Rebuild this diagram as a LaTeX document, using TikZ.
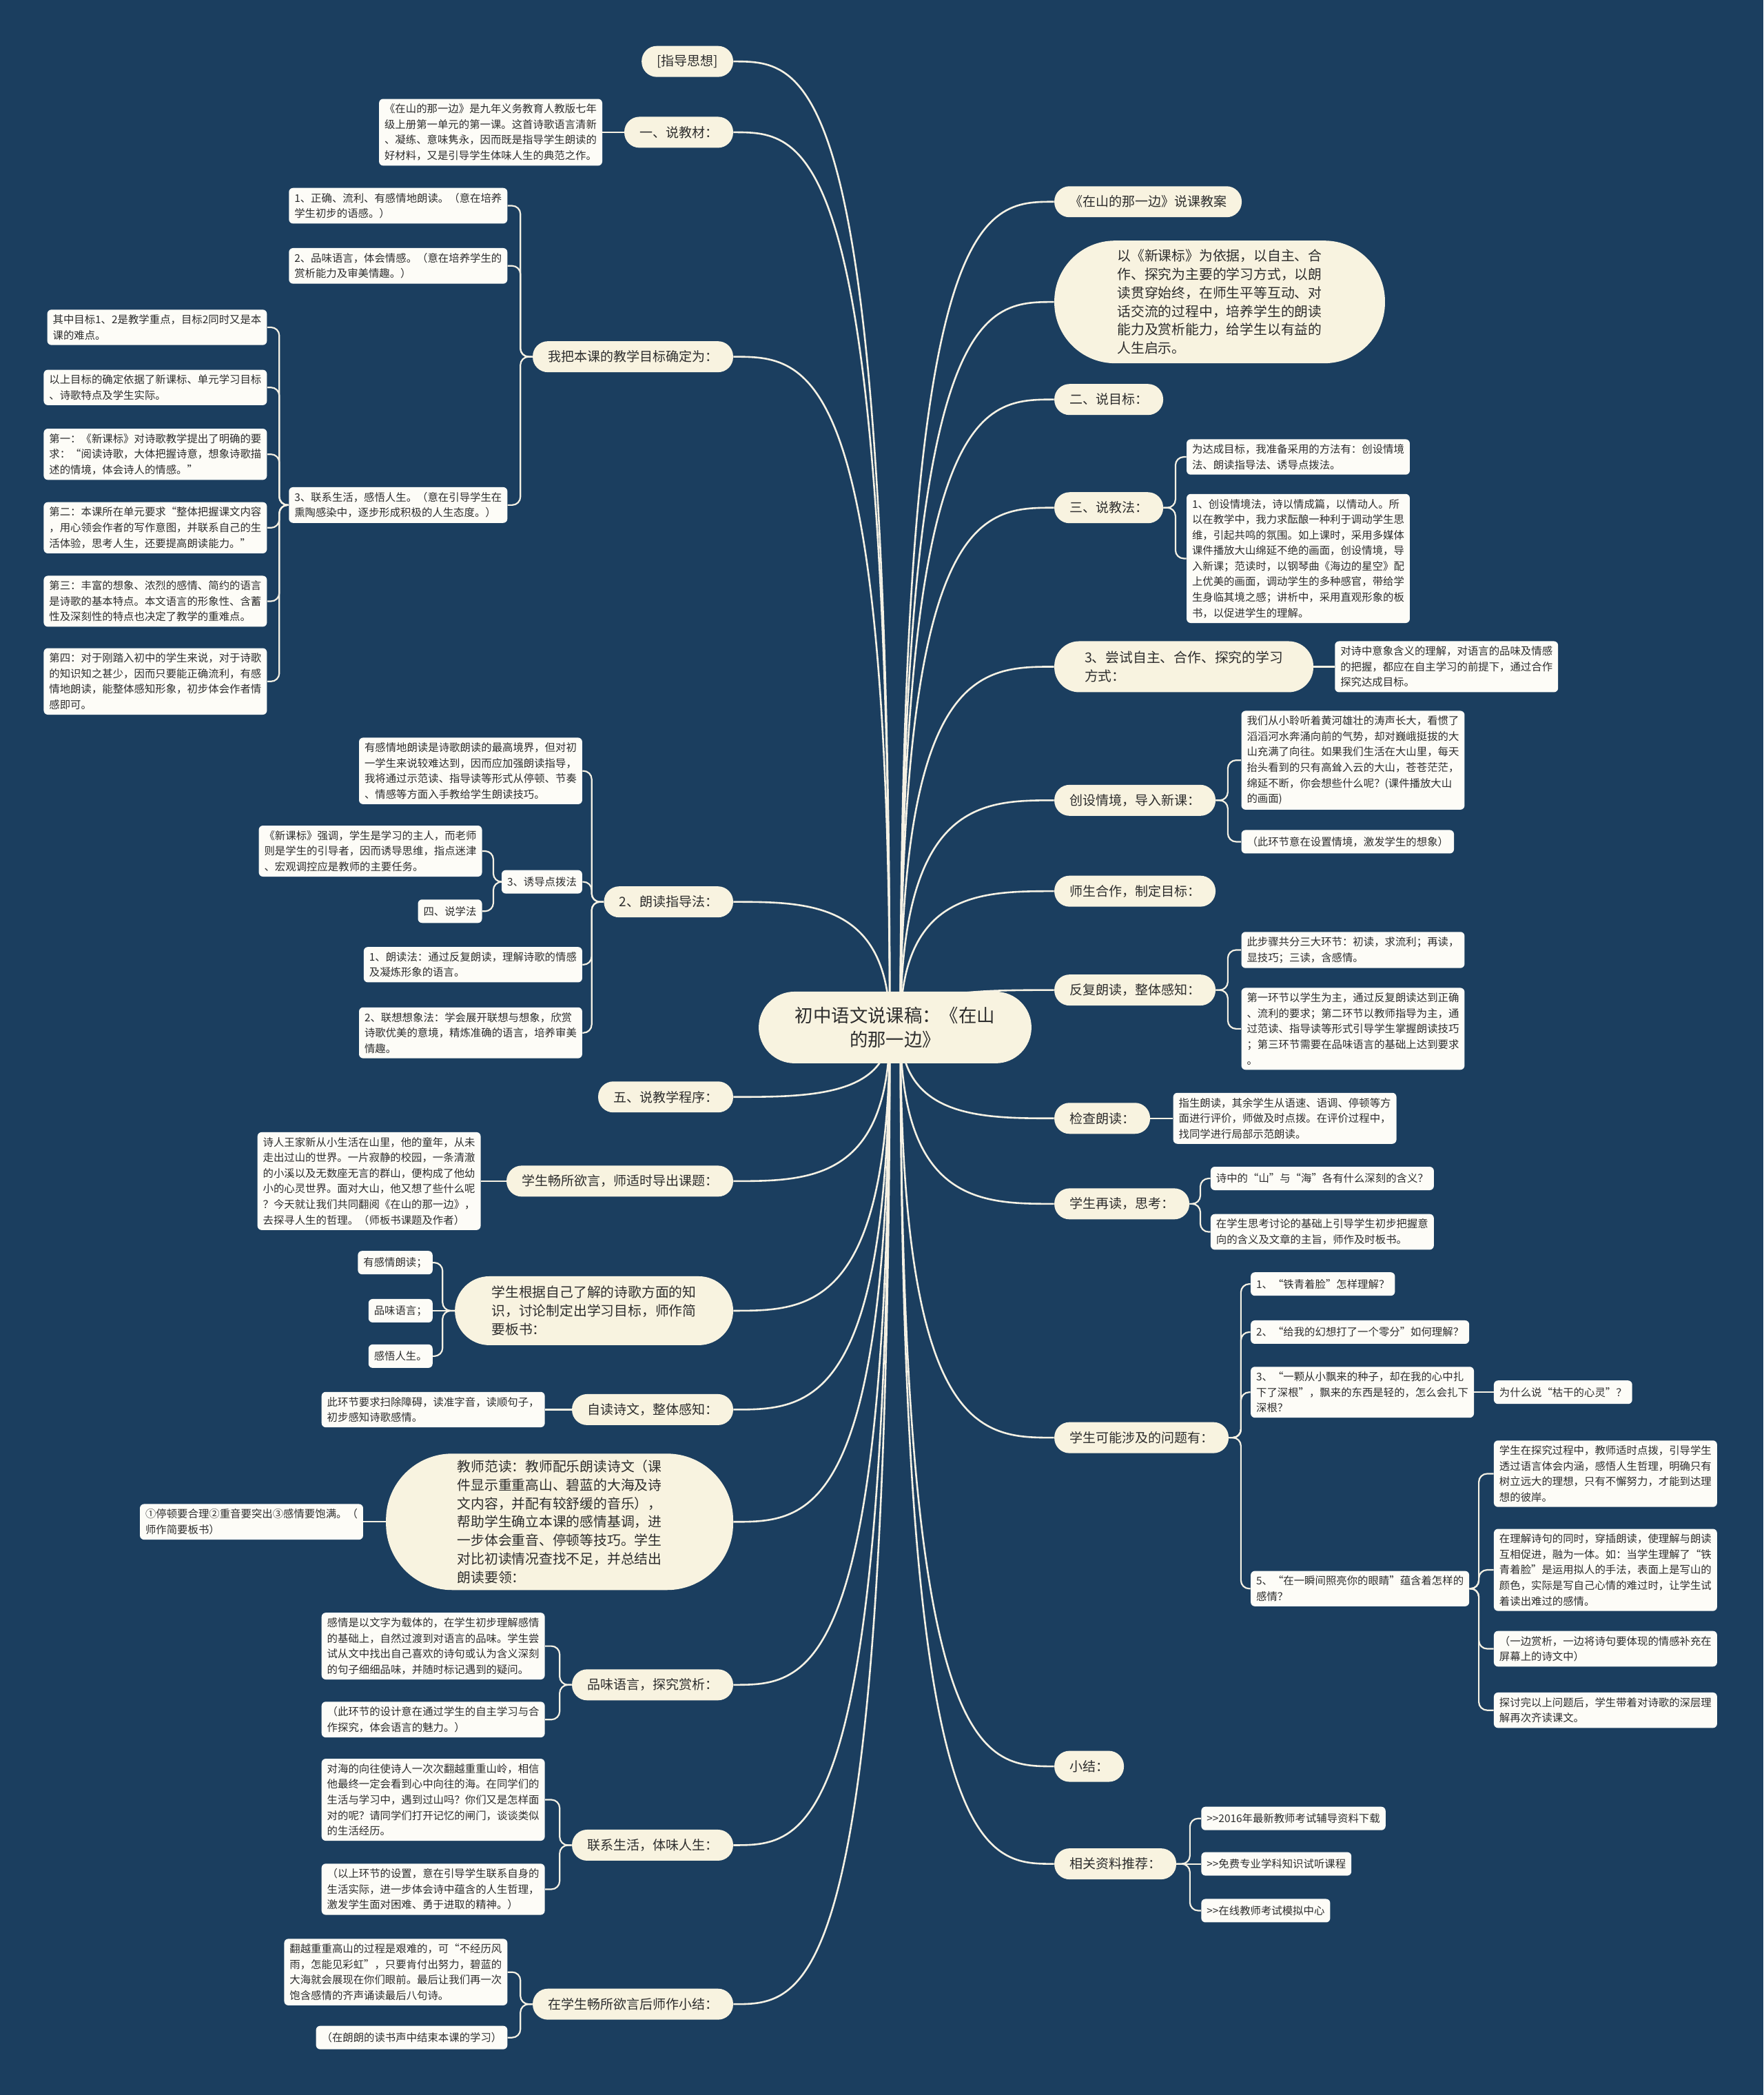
\documentclass[tikz,border=0pt]{standalone}
\usepackage{fontspec}
\setmainfont{Noto Sans CJK SC}
\usetikzlibrary{calc}
\definecolor{bgc}{RGB}{27,62,95}
\definecolor{pillc}{RGB}{248,243,224}
\definecolor{leafc}{RGB}{253,252,247}
\definecolor{linec}{RGB}{245,241,228}
\definecolor{txt}{RGB}{45,45,45}
\pgfdeclarelayer{bg}\pgfdeclarelayer{edges}\pgfsetlayers{bg,edges,main}
\tikzset{
 leaf/.style={fill=leafc, rounded corners=3pt, inner xsep=4pt, inner ysep=3.6pt, minimum height=17pt, align=left, font=\fontsize{7.7}{11.3}\selectfont, text=txt},
 pill/.style={fill=pillc, rounded corners=11pt, inner xsep=11pt, inner ysep=3pt, minimum height=22.5pt, align=left, font=\fontsize{9.5}{13.2}\selectfont, text=txt},
 bigpill/.style={pill, font=\fontsize{9.9}{13.4}\selectfont},
 rootnode/.style={fill=pillc, rounded corners=26pt, minimum width=198pt, minimum height=52pt, align=center, font=\fontsize{13.2}{17.5}\selectfont, text=txt},
 trunk/.style={draw=linec, line width=1.3pt},
 twig/.style={draw=linec, line width=1.1pt, rounded corners=6pt},
}
\newcommand\tkL[2]{\draw[trunk] (666,769) .. controls (666,#2) and (605,#2) .. (#1.east);}
\newcommand\tkR[2]{\draw[trunk] (674,769) .. controls (674,#2) and (735,#2) .. (#1.west);}
\newcommand\twL[3][9]{\draw[twig] (#2.west) -- ++(-#1,0) |- (#3.east);}
\newcommand\twR[3][9]{\draw[twig] (#2.east) -- ++(#1,0) |- (#3.west);}
\newcommand\stL[2]{\draw[twig] (#1.west) -- (#2.east);}
\newcommand\stR[2]{\draw[twig] (#1.east) -- (#2.west);}
\newcommand\gtgt{{>}{>}}
\begin{document}
\begin{tikzpicture}[x=0.9697pt,y=-0.9697pt]
\begin{pgfonlayer}{bg}
\fill[bgc] (0,0) rectangle (1320,1568);
\end{pgfonlayer}
\useasboundingbox (0,0) rectangle (1320,1568);

% root
\node[rootnode] (root) at (670,769) {初中语文说课稿：《在山\\的那一边》};

% ---------- left side ----------
\node[pill, anchor=east] (l1) at (549,46) {[指导思想]};
\node[pill, anchor=east] (l2) at (549,99) {一、说教材：};
\node[leaf, anchor=east] (l2a) at (451,99) {《在山的那一边》是九年义务教育人教版七年\\级上册第一单元的第一课。这首诗歌语言清新\\、凝练、意味隽永，因而既是指导学生朗读的\\好材料，又是引导学生体味人生的典范之作。};

\node[pill, anchor=east] (l3) at (549,267) {我把本课的教学目标确定为：};
\node[leaf, anchor=east] (l3a) at (380,154) {1、正确、流利、有感情地朗读。（意在培养\\学生初步的语感。）};
\node[leaf, anchor=east] (l3b) at (380,199) {2、品味语言，体会情感。（意在培养学生的\\赏析能力及审美情趣。）};
\node[leaf, anchor=east] (l3c) at (380,378) {3、联系生活，感悟人生。（意在引导学生在\\熏陶感染中，逐步形成积极的人生态度。）};
\node[leaf, anchor=east] (c1) at (200,245) {其中目标1、2是教学重点，目标2同时又是本\\课的难点。};
\node[leaf, anchor=east] (c2) at (200,290) {以上目标的确定依据了新课标、单元学习目标\\、诗歌特点及学生实际。};
\node[leaf, anchor=east] (c3) at (200,340) {第一：《新课标》对诗歌教学提出了明确的要\\求：“阅读诗歌，大体把握诗意，想象诗歌描\\述的情境，体会诗人的情感。”};
\node[leaf, anchor=east] (c4) at (200,395) {第二：本课所在单元要求“整体把握课文内容\\，用心领会作者的写作意图，并联系自己的生\\活体验，思考人生，还要提高朗读能力。”};
\node[leaf, anchor=east] (c5) at (200,450) {第三：丰富的想象、浓烈的感情、简约的语言\\是诗歌的基本特点。本文语言的形象性、含蓄\\性及深刻性的特点也决定了教学的重难点。};
\node[leaf, anchor=east] (c6) at (200,510) {第四：对于刚踏入初中的学生来说，对于诗歌\\的知识知之甚少，因而只要能正确流利，有感\\情地朗读，能整体感知形象，初步体会作者情\\感即可。};

\node[pill, anchor=east] (l4) at (549,675) {2、朗读指导法：};
\node[leaf, anchor=east] (d1) at (436,577) {有感情地朗读是诗歌朗读的最高境界，但对初\\一学生来说较难达到，因而应加强朗读指导，\\我将通过示范读、指导读等形式从停顿、节奏\\、情感等方面入手教给学生朗读技巧。};
\node[leaf, anchor=east] (d2) at (436,660) {3、诱导点拨法};
\node[leaf, anchor=east] (d2a) at (361,637) {《新课标》强调，学生是学习的主人，而老师\\则是学生的引导者，因而诱导思维，指点迷津\\、宏观调控应是教师的主要任务。};
\node[leaf, anchor=east] (d2b) at (361,682) {四、说学法};
\node[leaf, anchor=east] (d3) at (436,722) {1、朗读法：通过反复朗读，理解诗歌的情感\\及凝炼形象的语言。};
\node[leaf, anchor=east] (d4) at (436,773) {2、联想想象法：学会展开联想与想象，欣赏\\诗歌优美的意境，精炼准确的语言，培养审美\\情趣。};

\node[pill, anchor=east] (l5) at (549,821) {五、说教学程序：};
\node[pill, anchor=east] (l6) at (549,884) {学生畅所欲言，师适时导出课题：};
\node[leaf, anchor=east] (l6a) at (360,884) {诗人王家新从小生活在山里，他的童年，从未\\走出过山的世界。一片寂静的校园，一条清澈\\的小溪以及无数座无言的群山，便构成了他幼\\小的心灵世界。面对大山，他又想了些什么呢\\？今天就让我们共同翻阅《在山的那一边》，\\去探寻人生的哲理。（师板书课题及作者）};

\node[bigpill, anchor=east, minimum width=202pt, minimum height=50pt, rounded corners=25pt] (l7) at (549,981) {学生根据自己了解的诗歌方面的知\\识，讨论制定出学习目标，师作简\\要板书：};
\node[leaf, anchor=east] (l7a) at (324,945) {有感情朗读；};
\node[leaf, anchor=east] (l7b) at (324,981) {品味语言；};
\node[leaf, anchor=east] (l7c) at (324,1015) {感悟人生。};

\node[pill, anchor=east] (l8) at (549,1055) {自读诗文，整体感知：};
\node[leaf, anchor=east] (l8a) at (408,1055) {此环节要求扫除障碍，读准字音，读顺句子，\\初步感知诗歌感情。};

\node[bigpill, anchor=east, minimum width=252pt, minimum height=99pt, rounded corners=48pt] (l9) at (549,1139) {教师范读：教师配乐朗读诗文（课\\件显示重重高山、碧蓝的大海及诗\\文内容，并配有较舒缓的音乐），\\帮助学生确立本课的感情基调，进\\一步体会重音、停顿等技巧。学生\\对比初读情况查找不足，并总结出\\朗读要领：};
\node[leaf, anchor=east] (l9a) at (272,1139) {①停顿要合理②重音要突出③感情要饱满。（\\师作简要板书）};

\node[pill, anchor=east] (l10) at (549,1261) {品味语言，探究赏析：};
\node[leaf, anchor=east] (e1) at (408,1232) {感情是以文字为载体的，在学生初步理解感情\\的基础上，自然过渡到对语言的品味。学生尝\\试从文中找出自己喜欢的诗句或认为含义深刻\\的句子细细品味，并随时标记遇到的疑问。};
\node[leaf, anchor=east] (e2) at (408,1287) {（此环节的设计意在通过学生的自主学习与合\\作探究，体会语言的魅力。）};

\node[pill, anchor=east] (l11) at (549,1381) {联系生活，体味人生：};
\node[leaf, anchor=east] (f1) at (408,1347) {对海的向往使诗人一次次翻越重重山岭，相信\\他最终一定会看到心中向往的海。在同学们的\\生活与学习中，遇到过山吗？你们又是怎样面\\对的呢？请同学们打开记忆的闸门，谈谈类似\\的生活经历。};
\node[leaf, anchor=east] (f2) at (408,1414) {（以上环节的设置，意在引导学生联系自身的\\生活实际，进一步体会诗中蕴含的人生哲理，\\激发学生面对困难、勇于进取的精神。）};

\node[pill, anchor=east] (l12) at (549,1500) {在学生畅所欲言后师作小结：};
\node[leaf, anchor=east] (g1) at (380,1476) {翻越重重高山的过程是艰难的，可“不经历风\\雨，怎能见彩虹”，只要肯付出努力，碧蓝的\\大海就会展现在你们眼前。最后让我们再一次\\饱含感情的齐声诵读最后八句诗。};
\node[leaf, anchor=east] (g2) at (380,1525) {（在朗朗的读书声中结束本课的学习）};

% ---------- right side ----------
\node[pill, anchor=west] (r1) at (789,151) {《在山的那一边》说课教案};
\node[bigpill, anchor=west, minimum width=240pt, minimum height=89pt, rounded corners=44pt] (r2) at (789,226) {以《新课标》为依据，以自主、合\\作、探究为主要的学习方式，以朗\\读贯穿始终，在师生平等互动、对\\话交流的过程中，培养学生的朗读\\能力及赏析能力，给学生以有益的\\人生启示。};
\node[pill, anchor=west] (r3) at (789,299) {二、说目标：};
\node[pill, anchor=west] (r4) at (789,380) {三、说教法：};
\node[leaf, anchor=west] (h1) at (888,342) {为达成目标，我准备采用的方法有：创设情境\\法、朗读指导法、诱导点拨法。};
\node[leaf, anchor=west] (h2) at (888,418) {1、创设情境法，诗以情成篇，以情动人。所\\以在教学中，我力求酝酿一种利于调动学生思\\维，引起共鸣的氛围。如上课时，采用多媒体\\课件播放大山绵延不绝的画面，创设情境，导\\入新课；范读时，以钢琴曲《海边的星空》配\\上优美的画面，调动学生的多种感官，带给学\\生身临其境之感；讲析中，采用直观形象的板\\书，以促进学生的理解。};

\node[bigpill, anchor=west, minimum width=188pt, minimum height=37pt, rounded corners=18pt] (r5) at (789,499) {3、尝试自主、合作、探究的学习\\方式：};
\node[leaf, anchor=west] (r5a) at (999,499) {对诗中意象含义的理解，对语言的品味及情感\\的把握，都应在自主学习的前提下，通过合作\\探究达成目标。};

\node[pill, anchor=west] (r6) at (789,599) {创设情境，导入新课：};
\node[leaf, anchor=west] (i1) at (929,569) {我们从小聆听着黄河雄壮的涛声长大，看惯了\\滔滔河水奔涌向前的气势，却对巍峨挺拔的大\\山充满了向往。如果我们生活在大山里，每天\\抬头看到的只有高耸入云的大山，苍苍茫茫，\\绵延不断，你会想些什么呢？(课件播放大山\\的画面)};
\node[leaf, anchor=west] (i2) at (929,630) {（此环节意在设置情境，激发学生的想象）};

\node[pill, anchor=west] (r7) at (789,667) {师生合作，制定目标：};
\node[pill, anchor=west] (r8) at (789,741) {反复朗读，整体感知：};
\node[leaf, anchor=west] (j1) at (929,711) {此步骤共分三大环节：初读，求流利；再读，\\显技巧；三读，含感情。};
\node[leaf, anchor=west] (j2) at (929,770) {第一环节以学生为主，通过反复朗读达到正确\\、流利的要求；第二环节以教师指导为主，通\\过范读、指导读等形式引导学生掌握朗读技巧\\；第三环节需要在品味语言的基础上达到要求\\。};

\node[pill, anchor=west] (r9) at (789,837) {检查朗读：};
\node[leaf, anchor=west] (r9a) at (878,837) {指生朗读，其余学生从语速、语调、停顿等方\\面进行评价，师做及时点拨。在评价过程中，\\找同学进行局部示范朗读。};

\node[pill, anchor=west] (r10) at (789,901) {学生再读，思考：};
\node[leaf, anchor=west] (k1) at (906,882) {诗中的“山”与“海”各有什么深刻的含义？};
\node[leaf, anchor=west] (k2) at (906,922) {在学生思考讨论的基础上引导学生初步把握意\\向的含义及文章的主旨，师作及时板书。};

\node[pill, anchor=west] (r11) at (789,1076) {学生可能涉及的问题有：};
\node[leaf, anchor=west] (m1) at (936,961) {1、“铁青着脸”怎样理解？};
\node[leaf, anchor=west] (m2) at (936,997) {2、“给我的幻想打了一个零分”如何理解？};
\node[leaf, anchor=west] (m3) at (936,1042) {3、“一颗从小飘来的种子，却在我的心中扎\\下了深根”，飘来的东西是轻的，怎么会扎下\\深根？};
\node[leaf, anchor=west] (m3a) at (1118,1042) {为什么说“枯干的心灵”？};
\node[leaf, anchor=west] (m5) at (936,1189) {5、“在一瞬间照亮你的眼睛”蕴含着怎样的\\感情？};
\node[leaf, anchor=west] (n1) at (1118,1103) {学生在探究过程中，教师适时点拨，引导学生\\透过语言体会内涵，感悟人生哲理，明确只有\\树立远大的理想，只有不懈努力，才能到达理\\想的彼岸。};
\node[leaf, anchor=west] (n2) at (1118,1175) {在理解诗句的同时，穿插朗读，使理解与朗读\\互相促进，融为一体。如：当学生理解了“铁\\青着脸”是运用拟人的手法，表面上是写山的\\颜色，实际是写自己心情的难过时，让学生试\\着读出难过的感情。};
\node[leaf, anchor=west] (n3) at (1118,1234) {（一边赏析，一边将诗句要体现的情感补充在\\屏幕上的诗文中）};
\node[leaf, anchor=west] (n4) at (1118,1280) {探讨完以上问题后，学生带着对诗歌的深层理\\解再次齐读课文。};

\node[pill, anchor=west] (r12) at (789,1322) {小结：};
\node[pill, anchor=west] (r13) at (789,1395) {相关资料推荐：};
\node[leaf, anchor=west] (p1) at (899,1361) {\gtgt 2016年最新教师考试辅导资料下载};
\node[leaf, anchor=west] (p2) at (899,1395) {\gtgt 免费专业学科知识试听课程};
\node[leaf, anchor=west] (p3) at (899,1430) {\gtgt 在线教师考试模拟中心};

% ---------- connectors ----------
\begin{pgfonlayer}{edges}
\tkL{l1}{46} \tkL{l2}{99} \tkL{l3}{267} \tkL{l4}{675} \tkL{l5}{821}
\tkL{l6}{884} \tkL{l7}{981} \tkL{l8}{1055} \tkL{l9}{1139} \tkL{l10}{1261}
\tkL{l11}{1381} \tkL{l12}{1500}
\tkR{r1}{151} \tkR{r2}{226} \tkR{r3}{299} \tkR{r4}{380} \tkR{r5}{499}
\tkR{r6}{599} \tkR{r7}{667} \tkR{r8}{741} \tkR{r9}{837} \tkR{r10}{901}
\tkR{r11}{1076} \tkR{r12}{1322} \tkR{r13}{1395}

\stL{l2}{l2a}
\twL{l3}{l3a} \twL{l3}{l3b} \twL{l3}{l3c}
\twL[7]{l3c}{c1} \twL[7]{l3c}{c2} \twL[7]{l3c}{c3} \twL[7]{l3c}{c4} \twL[7]{l3c}{c5} \twL[7]{l3c}{c6}
\twL{l4}{d1} \twL{l4}{d2} \twL{l4}{d3} \twL{l4}{d4}
\twL[6]{d2}{d2a} \twL[6]{d2}{d2b}
\stL{l6}{l6a}
\twL{l7}{l7a} \stL{l7}{l7b} \twL{l7}{l7c}
\stL{l8}{l8a}
\stL{l9}{l9a}
\twL{l10}{e1} \twL{l10}{e2}
\twL{l11}{f1} \twL{l11}{f2}
\twL{l12}{g1} \twL{l12}{g2}

\twR{r4}{h1} \twR{r4}{h2}
\stR{r5}{r5a}
\twR{r6}{i1} \twR{r6}{i2}
\twR{r8}{j1} \twR{r8}{j2}
\stR{r9}{r9a}
\twR[8]{r10}{k1} \twR[8]{r10}{k2}
\twR{r11}{m1} \twR{r11}{m2} \twR{r11}{m3} \twR{r11}{m5}
\stR{m3}{m3a}
\twR[7]{m5}{n1} \twR[7]{m5}{n2} \twR[7]{m5}{n3} \twR[7]{m5}{n4}
\twR[10]{r13}{p1} \stR{r13}{p2} \twR[10]{r13}{p3}
\end{pgfonlayer}
\end{tikzpicture}
\end{document}
